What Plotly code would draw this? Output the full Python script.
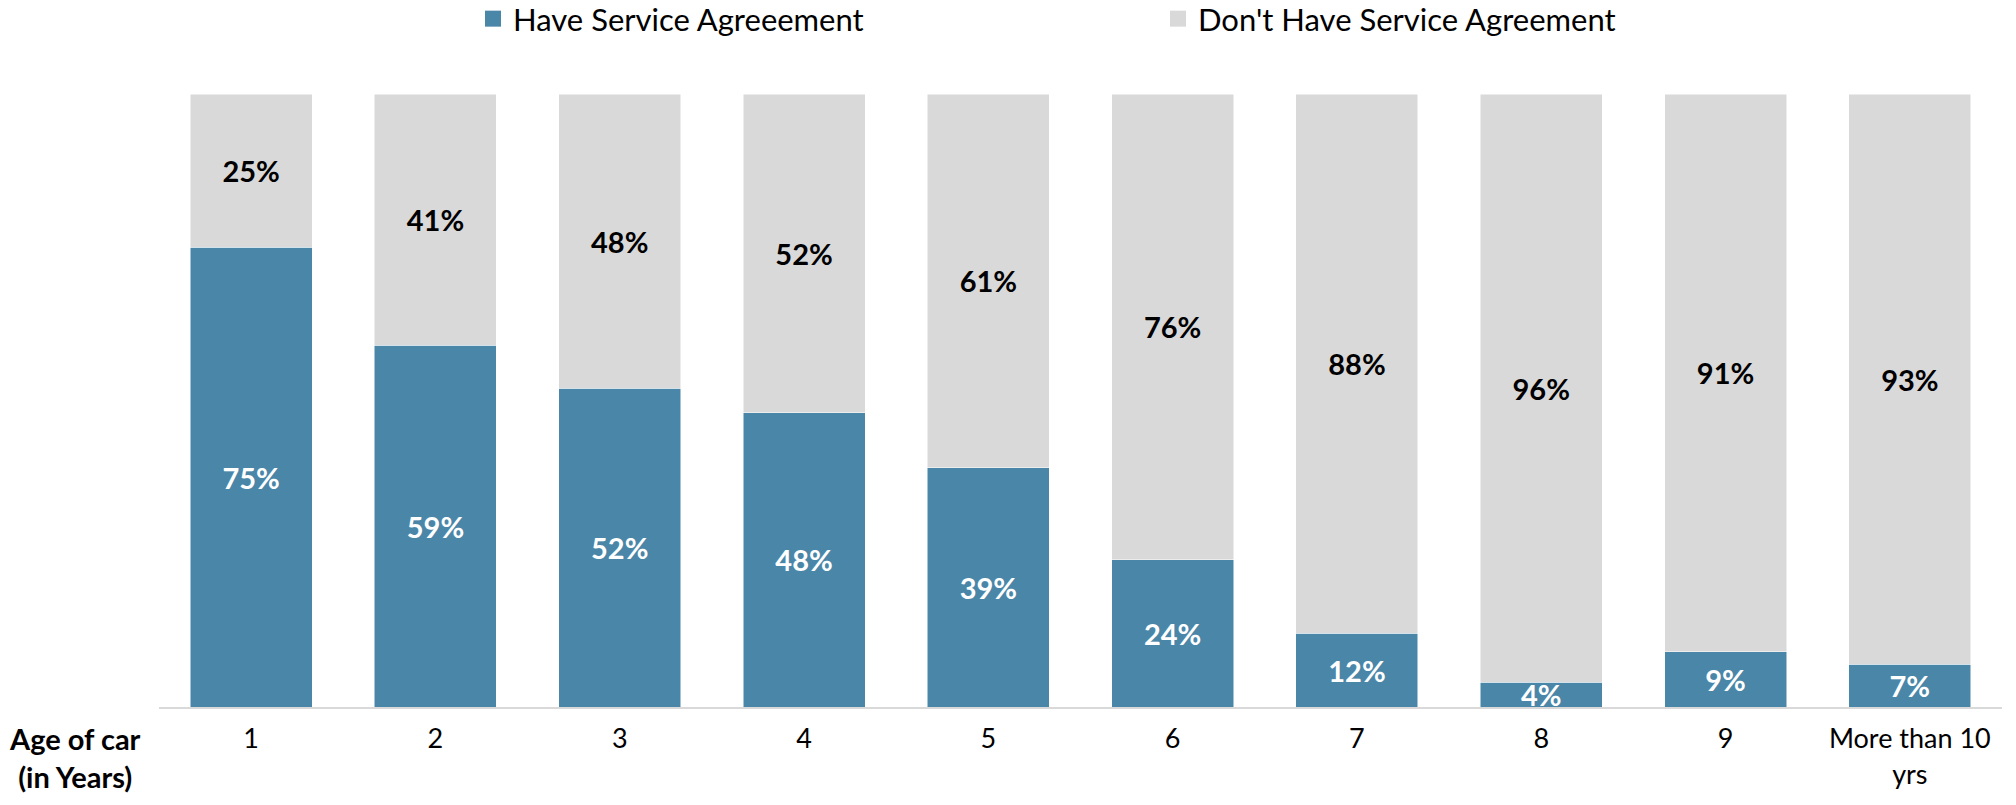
import plotly.graph_objects as go

categories = ["1", "2", "3", "4", "5", "6", "7", "8", "9", "More than 10 yrs"]
tick_labels = ["1", "2", "3", "4", "5", "6", "7", "8", "9", "More than 10<br>yrs"]
have = [75, 59, 52, 48, 39, 24, 12, 4, 9, 7]
dont_have = [25, 41, 48, 52, 61, 76, 88, 96, 91, 93]
series_names = ["Have Service Agreeement", "Don't Have Service Agreement"]

BLUE = "#4a86a8"
GRAY = "#d9d9d9"
FONT = "Lato"

W, H = 2016, 805
L, R, T, B = 159, 14, 94, 98
PW = W - L - R
PH = H - T - B

fig = go.Figure()
for name, vals, col, tcol in [(series_names[0], have, BLUE, "white"),
                              (series_names[1], dont_have, GRAY, "black")]:
    fig.add_trace(go.Bar(
        x=categories, y=vals, name=name,
        marker=dict(color=col, line=dict(color="white", width=0.5)),
        text=[f"{v}%" for v in vals],
        textposition="inside", insidetextanchor="middle",
        constraintext="none",
        textfont=dict(family=FONT, size=29, color=tcol, weight="bold"),
        showlegend=False, legendgroup=name, hoverinfo="skip",
    ))
    fig.add_trace(go.Scatter(
        x=[None], y=[None], mode="markers", name=name, legendgroup=name,
        marker=dict(symbol="square", size=16, color=col),
        showlegend=True,
    ))

fig.update_layout(
    width=W, height=H,
    margin=dict(l=L, r=R, t=T, b=B, autoexpand=False),
    barmode="stack", bargap=0.338,
    plot_bgcolor="white", paper_bgcolor="white",
    font=dict(family=FONT, size=27, color="black"),
    legend=dict(orientation="h", x=(473 - L) / PW, xanchor="left",
                y=1 + (T + 8) / PH, yanchor="top",
                bgcolor="rgba(0,0,0,0)",
                entrywidth=640, entrywidthmode="pixels",
                font=dict(family=FONT, size=31, color="black"),
                itemclick=False, itemdoubleclick=False),
    xaxis=dict(categoryorder="array", categoryarray=categories,
               tickvals=categories, ticktext=tick_labels,
               showline=True, linecolor=GRAY, linewidth=2,
               ticks="", showgrid=False, zeroline=False,
               ticklabelstandoff=7,
               tickfont=dict(family=FONT, size=27, color="black")),
    yaxis=dict(range=[0, 100], visible=False, showgrid=False, zeroline=False),
    annotations=[dict(
        text="<b>Age of car<br>(in Years)</b>", xref="paper", yref="paper",
        x=(75 - L) / PW, xanchor="center", y=-(739 - 707) / PH, yanchor="middle",
        yshift=-18, showarrow=False, align="center",
        font=dict(family=FONT, size=29, color="black"))],
)

fig.write_html("out.html")
